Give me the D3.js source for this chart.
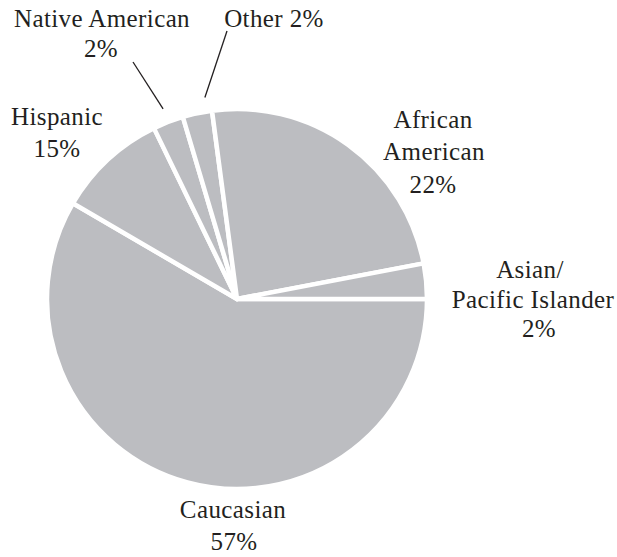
<!DOCTYPE html>
<html>
<head>
<meta charset="utf-8">
<script src="https://cdn.jsdelivr.net/npm/d3@7"></script>
<style>
  body { margin: 0; background: #fff; }
  text { font-family: "Liberation Serif", "Times New Roman", serif; font-size: 25px; fill: #231f20; letter-spacing: 0.4px; }
</style>
</head>
<body>
<svg id="chart" width="617" height="557"></svg>
<script>
// groups, in drawing order (clockwise from 3 o'clock)
var groups = ["Caucasian", "Hispanic", "Native American", "Other", "African American", "Asian/Pacific Islander"];
// share of the circle each slice takes as drawn in the picture
var sliceShare = [58.4, 9.4, 2.6, 2.5, 24.1, 3.0];
// percentage printed in the labels
var pctLabels = ["57%", "15%", "2%", "2%", "22%", "2%"];

// label layout: lines + x/baseline of each line, leader = [outer end, angle nudge in deg]
var labelLayout = {
    "Caucasian": { lines: [["Caucasian", 233, 518], ["57%", 234, 550]] },
    "Hispanic": { lines: [["Hispanic", 57, 125], ["15%", 57, 157]] },
    "Native American": { lines: [["Native American", 102, 27], ["2%", 101, 57]], leader: [[133, 62], 0] },
    "Other": { lines: [["Other 2%", 274, 27]], leader: [[227, 31], 3] },
    "African American": { lines: [["African", 433, 128], ["American", 434, 160], ["22%", 433, 193]] },
    "Asian/Pacific Islander": { lines: [["Asian/", 530, 278], ["Pacific Islander", 533, 308], ["2%", 539, 337]] }
};

var cx = 237, cy = 299, radius = 190;
var svg = d3.select("#chart");
var g = svg.append("g").attr("transform", "translate(" + cx + "," + cy + ")");

var pie = d3.pie()
    .sort(null)
    .startAngle(Math.PI / 2)
    .endAngle(Math.PI / 2 + 2 * Math.PI)
    .value(function(d, i) { return sliceShare[i]; });

var arc = d3.arc().innerRadius(0).outerRadius(radius);
var arcs = pie(groups);

g.selectAll("path.slice")
    .data(arcs)
    .enter().append("path")
    .attr("class", "slice")
    .attr("d", arc)
    .attr("fill", "#bcbdc1")
    .attr("stroke", "#fff")
    .attr("stroke-width", 4.5)
    .attr("stroke-linejoin", "round");

// leader lines for the thin slices
arcs.forEach(function(a) {
    var lay = labelLayout[a.data];
    if(!lay.leader) return;
    var ang = (a.startAngle + a.endAngle) / 2 + lay.leader[1] * Math.PI / 180;
    var r = 204;
    var x2 = cx + r * Math.sin(ang), y2 = cy - r * Math.cos(ang);
    svg.append("line")
        .attr("x1", lay.leader[0][0]).attr("y1", lay.leader[0][1])
        .attr("x2", x2).attr("y2", y2)
        .attr("stroke", "#231f20")
        .attr("stroke-width", 1.3);
});

groups.forEach(function(name) {
    var lay = labelLayout[name];
    lay.lines.forEach(function(l) {
        svg.append("text")
            .attr("x", l[1])
            .attr("y", l[2])
            .attr("text-anchor", "middle")
            .text(l[0]);
    });
});
</script>
</body>
</html>
